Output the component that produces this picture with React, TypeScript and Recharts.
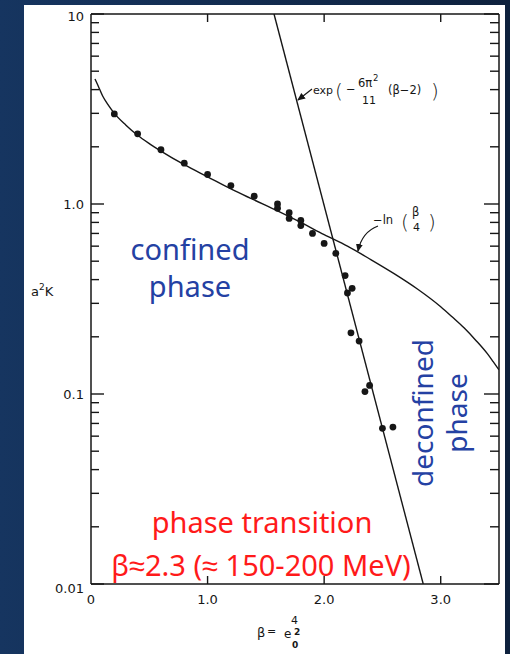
import React from "react";
import { ComposedChart, Line, Scatter, XAxis, YAxis, ReferenceLine } from "recharts";

// measured lattice points (beta, a^2 K)
const pointBeta = [0.2, 0.4, 0.6, 0.8, 1.0, 1.2, 1.4, 1.6, 1.6, 1.7, 1.7, 1.8, 1.8, 1.9, 2.0, 2.1, 2.18, 2.24, 2.2, 2.23, 2.3, 2.35, 2.39, 2.5, 2.59];
const pointK = [2.98, 2.34, 1.93, 1.64, 1.43, 1.25, 1.1, 1.0, 0.95, 0.9, 0.84, 0.82, 0.77, 0.7, 0.62, 0.55, 0.42, 0.36, 0.34, 0.21, 0.19, 0.103, 0.111, 0.066, 0.067];

// strong coupling curve  -ln(beta/4)
const strongBeta = [0.034, 0.06, 0.1, 0.15, 0.2, 0.3, 0.4, 0.5, 0.6, 0.8, 1.0, 1.2, 1.4, 1.6, 1.8, 2.0, 2.2, 2.4, 2.6, 2.8, 3.0, 3.1, 3.2, 3.3, 3.4, 3.45, 3.5];
const strongK = [4.55, 4.2, 3.7, 3.3, 3.0, 2.6, 2.3, 2.08, 1.9, 1.61, 1.39, 1.2, 1.05, 0.92, 0.8, 0.69, 0.6, 0.51, 0.43, 0.357, 0.288, 0.254, 0.223, 0.192, 0.163, 0.148, 0.134];

// weak coupling line  exp(-6pi^2/11 (beta-2))
const weakBeta = [1.57, 2.85];
const weakK = [10, 0.01];

const xTicks = [0, 1, 2, 3];
const xTickLabels = ["0", "1.0", "2.0", "3.0"];
const yTicks = [
  0.01, 0.02, 0.03, 0.04, 0.05, 0.06, 0.07, 0.08, 0.09,
  0.1, 0.2, 0.3, 0.4, 0.5, 0.6, 0.7, 0.8, 0.9,
  1, 2, 3, 4, 5, 6, 7, 8, 9, 10,
];
const decadeLabels: Record<string, string> = { "0.01": "0.01", "0.1": "0.1", "1": "1.0", "10": "10" };

const points = pointBeta.map((b, i) => ({ b, k: pointK[i] }));
const strong = strongBeta.map((b, i) => ({ b, k: strongK[i] }));
const weak = weakBeta.map((b, i) => ({ b, k: weakK[i] }));

const ink = "#161616";
const axisFont = "'DejaVu Sans', sans-serif";

// plot geometry, used to turn tick-mark lengths (px) into axis units
const plotW = 408;
const plotH = 570;
const xMax = 3.5;
const pxToBeta = (px: number) => (px * xMax) / plotW;
const pxToFactor = (px: number) => Math.pow(10, (px * 3) / plotH);

function leftTick(props: any) {
  const x = Number(props.x);
  const y = Number(props.y);
  const v = props.payload.value;
  const label = decadeLabels[String(v)];
  if (!label) return <g key={`l-${v}`} />;
  let dy = 5;
  if (v === 0.01) dy = 9;
  if (v === 10) dy = 7;
  return (
    <text key={`l-${v}`} x={x - 7} y={y + dy} textAnchor="end" fontSize={13} fontFamily={axisFont} fill={ink}>
      {label}
    </text>
  );
}

function bottomTick(props: any) {
  const x = Number(props.x);
  const y = Number(props.y);
  const v = props.payload.value;
  return (
    <text key={`b-${v}`} x={x} y={y + 20} textAnchor="middle" fontSize={13} fontFamily={axisFont} fill={ink}>
      {xTickLabels[xTicks.indexOf(v)]}
    </text>
  );
}

const Dot = (props: any) => <circle cx={props.cx} cy={props.cy} r={3.4} fill={ink} />;

export default function App() {
  // inward tick marks on all four sides of the frame
  const tickMarks: React.ReactNode[] = [];
  yTicks.forEach((v) => {
    const major = !!decadeLabels[String(v)];
    const inL = pxToBeta(major ? 13 : 8);
    const inR = pxToBeta(major ? 15 : 9);
    tickMarks.push(
      <ReferenceLine
        key={`ml-${v}`}
        xAxisId="b"
        yAxisId="l"
        segment={[{ x: 0, y: v }, { x: inL, y: v }]}
        stroke={ink}
        strokeWidth={1.4}
        ifOverflow="visible"
      />,
      <ReferenceLine
        key={`mr-${v}`}
        xAxisId="b"
        yAxisId="l"
        segment={[{ x: xMax - inR, y: v }, { x: xMax, y: v }]}
        stroke={ink}
        strokeWidth={1.4}
        ifOverflow="visible"
      />
    );
  });
  xTicks
    .filter((b) => b > 0)
    .forEach((b) => {
      tickMarks.push(
        <ReferenceLine
          key={`mb-${b}`}
          xAxisId="b"
          yAxisId="l"
          segment={[{ x: b, y: 0.01 }, { x: b, y: 0.01 * pxToFactor(8) }]}
          stroke={ink}
          strokeWidth={1.4}
          ifOverflow="visible"
        />,
        <ReferenceLine
          key={`mt-${b}`}
          xAxisId="b"
          yAxisId="l"
          segment={[{ x: b, y: 10 / pxToFactor(8) }, { x: b, y: 10 }]}
          stroke={ink}
          strokeWidth={1.4}
          ifOverflow="visible"
        />
      );
    });

  return (
    <div
      style={{
        position: "absolute",
        left: 0,
        top: 0,
        width: 510,
        height: 654,
        background: "linear-gradient(90deg, #163560 0%, #0e213d 100%)",
        overflow: "hidden",
      }}
    >
      <div style={{ position: "absolute", left: 24, top: 5, width: 481, height: 649, background: "#fff" }} />
      <div style={{ position: "absolute", left: 0, top: 0 }}>
        <ComposedChart width={510} height={654} margin={{ top: 0, right: 0, bottom: 0, left: 0 }}>
          <XAxis
            xAxisId="b"
            dataKey="b"
            type="number"
            domain={[0, xMax]}
            ticks={xTicks}
            interval={0}
            height={70}
            orientation="bottom"
            tickSize={0}
            tickMargin={0}
            tickLine={false}
            axisLine={{ stroke: ink, strokeWidth: 1.5 }}
            tick={bottomTick}
            allowDataOverflow
          />
          <XAxis
            xAxisId="t"
            dataKey="b"
            type="number"
            domain={[0, xMax]}
            height={14}
            orientation="top"
            tick={false}
            tickLine={false}
            axisLine={{ stroke: ink, strokeWidth: 1.5 }}
            allowDataOverflow
          />
          <YAxis
            yAxisId="l"
            dataKey="k"
            type="number"
            scale="log"
            domain={[0.01, 10]}
            ticks={yTicks}
            interval={0}
            width={91}
            orientation="left"
            tickSize={0}
            tickMargin={0}
            tickLine={false}
            axisLine={{ stroke: ink, strokeWidth: 1.5 }}
            tick={leftTick}
            allowDataOverflow
          />
          <YAxis
            yAxisId="r"
            dataKey="k"
            type="number"
            scale="log"
            domain={[0.01, 10]}
            width={11}
            orientation="right"
            tick={false}
            tickLine={false}
            axisLine={{ stroke: ink, strokeWidth: 1.5 }}
            allowDataOverflow
          />
          {tickMarks}
          <Line
            xAxisId="b"
            yAxisId="l"
            data={strong}
            dataKey="k"
            type="monotone"
            stroke={ink}
            strokeWidth={1.4}
            dot={false}
            isAnimationActive={false}
          />
          <Line
            xAxisId="b"
            yAxisId="l"
            data={weak}
            dataKey="k"
            type="linear"
            stroke={ink}
            strokeWidth={1.4}
            dot={false}
            isAnimationActive={false}
          />
          <Scatter xAxisId="b" yAxisId="l" data={points} dataKey="k" shape={<Dot />} isAnimationActive={false} />
        </ComposedChart>
      </div>
      <svg
        width={510}
        height={654}
        style={{ position: "absolute", left: 0, top: 0, pointerEvents: "none" }}
        fontFamily={axisFont}
        fill={ink}
      >
        <defs>
          <marker id="ah" markerWidth="8" markerHeight="8" refX="7" refY="4" orient="auto" markerUnits="userSpaceOnUse">
            <path d="M0,0.5 L8,4 L0,7.5 Z" fill={ink} />
          </marker>
        </defs>

        {/* weak coupling label */}
        <path d="M 312 89 L 298 100" stroke={ink} strokeWidth={1.2} fill="none" markerEnd="url(#ah)" />
        <text x={313} y={94} fontSize={11}>exp</text>
        <text x={335} y={98} fontSize={20} fontWeight={300}>(</text>
        <text x={346} y={93} fontSize={11.5}>−</text>
        <text x={358} y={87} fontSize={11.5}>6π</text>
        <text x={373} y={81} fontSize={8.5}>2</text>
        <text x={362} y={104} fontSize={11}>11</text>
        <text x={388} y={94} fontSize={11.5}>(β−2)</text>
        <text x={431} y={98} fontSize={20} fontWeight={300}>)</text>

        {/* strong coupling label */}
        <path d="M 378 226 Q 362 232 358 251" stroke={ink} strokeWidth={1.2} fill="none" markerEnd="url(#ah)" />
        <text x={373} y={224} fontSize={11.5}>−ln</text>
        <text x={401} y={229} fontSize={20} fontWeight={300}>(</text>
        <text x={412} y={216} fontSize={11.5}>β</text>
        <text x={413} y={231} fontSize={11}>4</text>
        <text x={428} y={229} fontSize={20} fontWeight={300}>)</text>

        {/* axis titles */}
        <text x={31} y={296} fontSize={13}>
          a<tspan fontSize={9} dy={-6}>2</tspan>
          <tspan dy={6}>K</tspan>
        </text>
        <text x={257} y={637} fontSize={13}>β</text>
        <text x={267} y={635} fontSize={11}>=</text>
        <text x={291} y={624} fontSize={11}>4</text>
        <text x={284} y={638} fontSize={12}>e</text>
        <text x={294} y={635} fontSize={9} fontWeight={700}>2</text>
        <text x={292} y={648} fontSize={9} fontWeight={700}>0</text>

        {/* phase annotations */}
        <g fontFamily="'Noto Sans', sans-serif" fontSize={29} fill="#2441a3" textAnchor="middle">
          <text x={190} y={260}>confined</text>
          <text x={190} y={297}>phase</text>
        </g>
        <g fontFamily="'Noto Sans', sans-serif" fontSize={28} fill="#2441a3" textAnchor="middle">
          <text transform="rotate(-90)" x={-413} y={433}>deconfined</text>
          <text transform="rotate(-90)" x={-413} y={467}>phase</text>
        </g>
        <g fontFamily="'Noto Sans', sans-serif" fontSize={29} fill="#ff1a1a" textAnchor="middle">
          <text x={262} y={533}>phase transition</text>
          <text x={261} y={576}>β≈2.3 (≈ 150-200 MeV)</text>
        </g>
      </svg>
    </div>
  );
}
